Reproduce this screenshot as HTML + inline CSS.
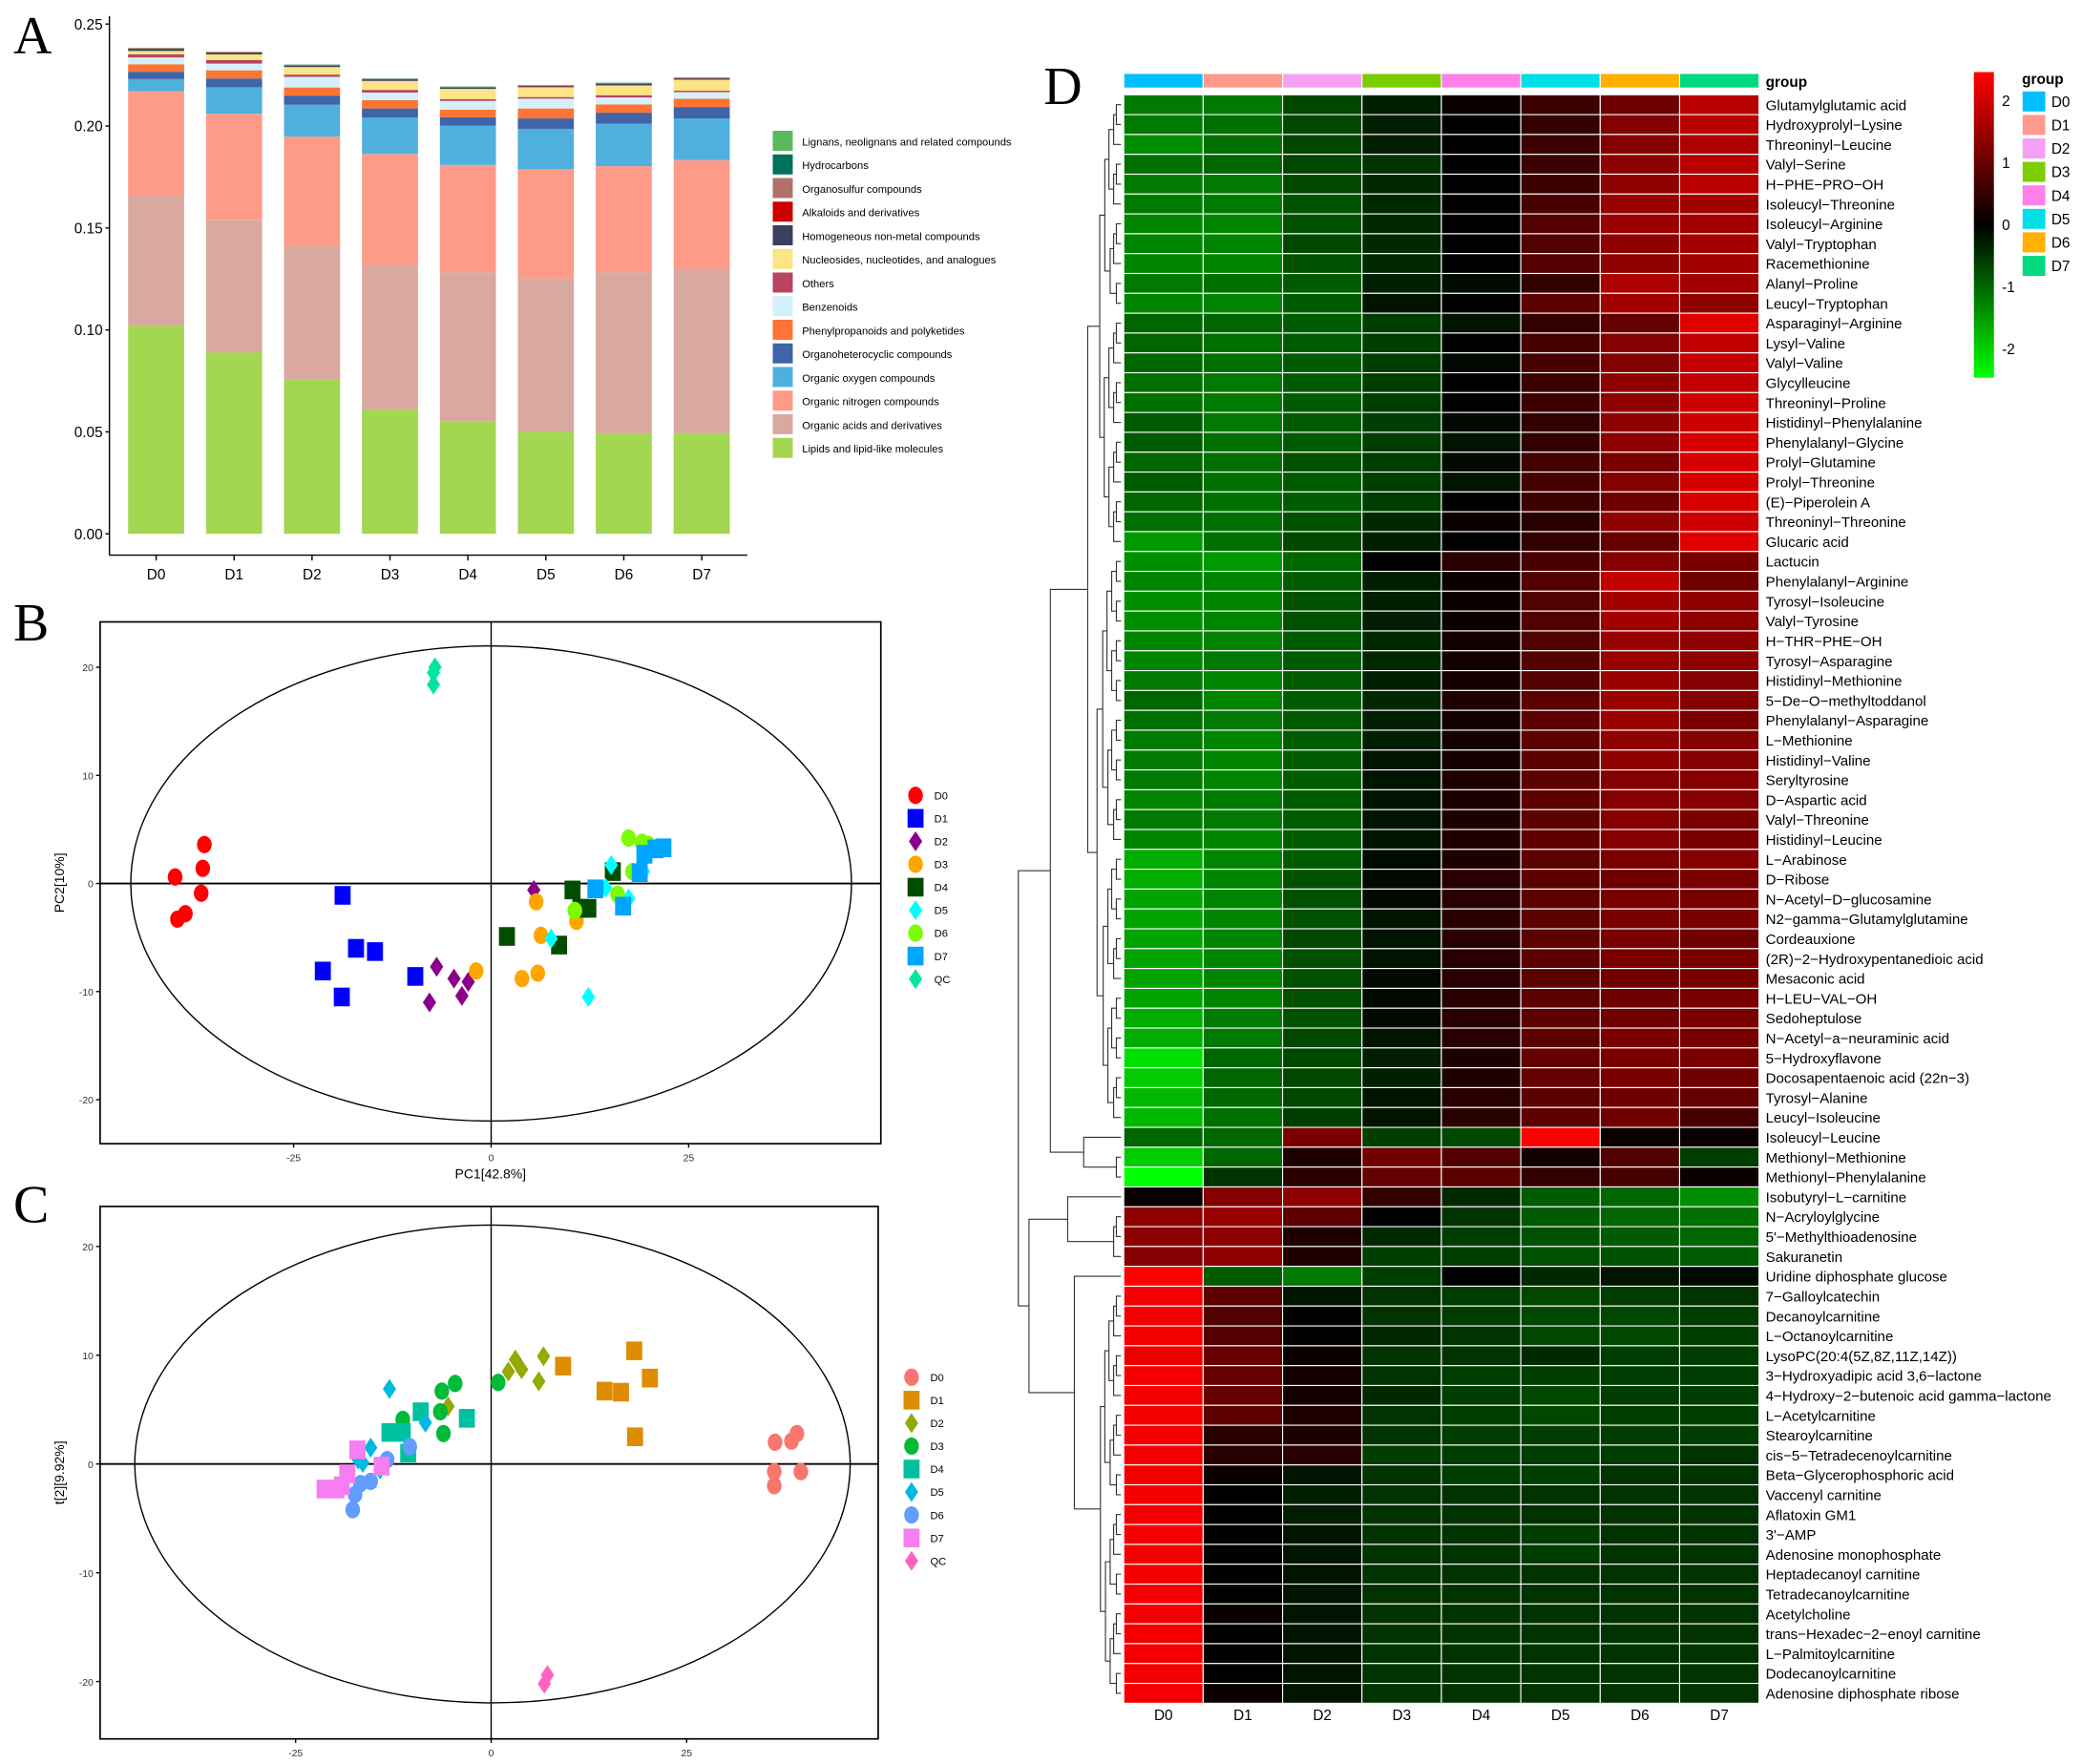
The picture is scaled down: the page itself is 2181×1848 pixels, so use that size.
<!DOCTYPE html>
<html><head><meta charset="utf-8">
<style>
html,body{margin:0;padding:0;background:#fff;}
svg{display:block;font-family:"Liberation Sans",sans-serif;}
</style></head>
<body>
<svg id="fig" width="2181" height="1848" viewBox="0 0 1560 1321.8" xmlns="http://www.w3.org/2000/svg">
<rect width="1560" height="1322" fill="#fff"/>
<text x="10" y="40" font-family="Liberation Serif,serif" font-size="40">A</text>
<text x="10" y="480" font-family="Liberation Serif,serif" font-size="40">B</text>
<text x="10" y="916" font-family="Liberation Serif,serif" font-size="40">C</text>
<text x="782" y="78" font-family="Liberation Serif,serif" font-size="40">D</text>
<g id="gA"></g>
<g id="gB"></g>
<g id="gC"></g>
<g id="gD"></g>
</svg>
<script>
// ===== Panel A data =====
const aGroups = ["D0","D1","D2","D3","D4","D5","D6","D7"];
const aClasses = ["Lipids and lipid-like molecules","Organic acids and derivatives","Organic nitrogen compounds","Organic oxygen compounds","Organoheterocyclic compounds","Phenylpropanoids and polyketides","Benzenoids","Others","Nucleosides, nucleotides, and analogues","Homogeneous non-metal compounds","Alkaloids and derivatives","Organosulfur compounds","Hydrocarbons","Lignans, neolignans and related compounds"];
const aColors = ["#a3d651","#d9a89e","#fe9a88","#4fb0dd","#3f64a8","#fe7433","#d4f1fb","#b94460","#fde484","#3a405e","#cc0000","#b0716b","#00705f","#5cb85c"];
const aLipids   = [0.102,0.089,0.0756,0.0611,0.055,0.0501,0.0494,0.0494];
const aAcids    = [0.064,0.065,0.0656,0.0708,0.0732,0.0751,0.0788,0.0806];
const aNitrogen = [0.051,0.052,0.0536,0.0544,0.0527,0.0537,0.0521,0.0533];
const aOxygen   = [0.006,0.013,0.0156,0.0178,0.0193,0.0197,0.0208,0.0204];
const aHetero   = [0.0036,0.0043,0.0045,0.0045,0.0041,0.0051,0.0054,0.0056];
const aPhenyl   = [0.0037,0.004,0.004,0.0041,0.0037,0.0049,0.0041,0.0041];
const aBenzen   = [0.0033,0.0033,0.0052,0.0037,0.0043,0.0048,0.0034,0.0032];
const aOthers   = [0.0015,0.0017,0.0011,0.0013,0.0009,0.0008,0.0011,0.0007];
const aNucleo   = [0.0017,0.0028,0.0037,0.0044,0.005,0.0048,0.0048,0.0054];
const aHomog    = [0.0008,0.0007,0.0007,0.0006,0.0006,0.0005,0.0008,0.0006];
const aAlkal    = [0.0003,0.0002,0.0002,0.0002,0.0002,0.0002,0.0002,0.0002];
const aSulfur   = [0.0002,0.0002,0.0002,0.0002,0.0002,0.0002,0.0002,0.0002];
const aHydro    = [0.0001,0.0001,0.0001,0.0001,0.0001,0.0001,0.0001,0.0001];
const aLignan   = [0.0001,0.0001,0.0001,0.0001,0.0001,0.0001,0.0001,0.0001];
const aTicks = [0,0.05,0.10,0.15,0.20,0.25];
const aTickLabels = ["0.00","0.05","0.10","0.15","0.20","0.25"];

// ===== Panel B data (PCA) =====
const bGroups = ["D0","D1","D2","D3","D4","D5","D6","D7","QC"];
const bX = [
 [-36.3,-36.5,-40,-36.7,-38.7,-39.7],
 [-18.8,-21.3,-17.1,-14.7,-18.9,-9.6],
 [5.4,-6.9,-4.7,-2.9,-3.7,-7.8],
 [5.7,-1.9,3.9,5.9,6.3,10.8],
 [10.3,15.4,2,8.6,12.3,11.3],
 [15.2,19.3,7.6,12.3,14.5,17.4],
 [17.4,19.1,19.9,17.9,16,10.6],
 [20.8,21.8,19.4,18.8,13.2,16.7],
 [-7.1,-7.3,-7.3]];
const bY = [
 [3.6,1.4,0.6,-0.9,-2.8,-3.3],
 [-1.1,-8.1,-6.0,-6.3,-10.5,-8.6],
 [-0.6,-7.7,-8.8,-9.1,-10.4,-11],
 [-1.7,-8.1,-8.8,-8.3,-4.8,-3.5],
 [-0.6,1.1,-4.9,-5.7,-2.3,-2.3],
 [1.7,1.1,-5.1,-10.5,-0.4,-1.4],
 [4.2,3.8,3.6,1.1,-1,-2.5],
 [3.2,3.3,2.7,1,-0.5,-2.1],
 [20,19.5,18.4]];
const bTicksX = [-25,0,25];
const bTicksY = [-20,-10,0,10,20];

// ===== Panel C data (OPLS-DA) =====
const cX = [
 [39.1,38.4,36.3,36.2,39.6,36.2],
 [18.3,9.2,20.3,14.5,16.6,18.4],
 [3.1,6.7,2.2,3.9,6.1,-5.5],
 [-4.6,-6.3,0.9,-6.5,-11.3,-6.1],
 [-9,-3.1,-13,-11.3,-10.6],
 [-13,-8.4,-15.4,-16.4,-14.2,-17],
 [-10.4,-13.3,-15.4,-17.4,-17.7,-16.7],
 [-17.1,-14,-18.4,-21.3,-19.8,-19.1],
 [7.2,6.8]];
const cY = [
 [2.8,2.1,2,-0.7,-0.7,-2],
 [10.4,9,7.9,6.7,6.6,2.5],
 [9.6,9.9,8.5,8.7,7.6,5.3],
 [7.4,6.7,7.5,4.8,4.1,2.8],
 [4.8,4.2,2.9,2.9,1],
 [6.9,3.8,1.5,0.1,-0.5,0.4],
 [1.6,0.4,-1.6,-2.8,-4.2,-1.8],
 [1.3,-0.2,-0.9,-2.3,-2.3,-2],
 [-19.4,-20.2]];

// ===== Panel D data (heatmap) =====
const hCols = ["D0","D1","D2","D3","D4","D5","D6","D7"];
const hRows = ["Glutamylglutamic acid","Hydroxyprolyl\u2212Lysine","Threoninyl\u2212Leucine","Valyl\u2212Serine","H\u2212PHE\u2212PRO\u2212OH","Isoleucyl\u2212Threonine","Isoleucyl\u2212Arginine","Valyl\u2212Tryptophan","Racemethionine","Alanyl\u2212Proline","Leucyl\u2212Tryptophan","Asparaginyl\u2212Arginine","Lysyl\u2212Valine","Valyl\u2212Valine","Glycylleucine","Threoninyl\u2212Proline","Histidinyl\u2212Phenylalanine","Phenylalanyl\u2212Glycine","Prolyl\u2212Glutamine","Prolyl\u2212Threonine","(E)\u2212Piperolein A","Threoninyl\u2212Threonine","Glucaric acid","Lactucin","Phenylalanyl\u2212Arginine","Tyrosyl\u2212Isoleucine","Valyl\u2212Tyrosine","H\u2212THR\u2212PHE\u2212OH","Tyrosyl\u2212Asparagine","Histidinyl\u2212Methionine","5\u2212De\u2212O\u2212methyltoddanol","Phenylalanyl\u2212Asparagine","L\u2212Methionine","Histidinyl\u2212Valine","Seryltyrosine","D\u2212Aspartic acid","Valyl\u2212Threonine","Histidinyl\u2212Leucine","L\u2212Arabinose","D\u2212Ribose","N\u2212Acetyl\u2212D\u2212glucosamine","N2\u2212gamma\u2212Glutamylglutamine","Cordeauxione","(2R)\u22122\u2212Hydroxypentanedioic acid","Mesaconic acid","H\u2212LEU\u2212VAL\u2212OH","Sedoheptulose","N\u2212Acetyl\u2212a\u2212neuraminic acid","5\u2212Hydroxyflavone","Docosapentaenoic acid (22n\u22123)","Tyrosyl\u2212Alanine","Leucyl\u2212Isoleucine","Isoleucyl\u2212Leucine","Methionyl\u2212Methionine","Methionyl\u2212Phenylalanine","Isobutyryl\u2212L\u2212carnitine","N\u2212Acryloylglycine","5'\u2212Methylthioadenosine","Sakuranetin","Uridine diphosphate glucose","7\u2212Galloylcatechin","Decanoylcarnitine","L\u2212Octanoylcarnitine","LysoPC(20:4(5Z,8Z,11Z,14Z))","3\u2212Hydroxyadipic acid 3,6\u2212lactone","4\u2212Hydroxy\u22122\u2212butenoic acid gamma\u2212lactone","L\u2212Acetylcarnitine","Stearoylcarnitine","cis\u22125\u2212Tetradecenoylcarnitine","Beta\u2212Glycerophosphoric acid","Vaccenyl carnitine","Aflatoxin GM1","3'\u2212AMP","Adenosine monophosphate","Heptadecanoyl carnitine","Tetradecanoylcarnitine","Acetylcholine","trans\u2212Hexadec\u22122\u2212enoyl carnitine","L\u2212Palmitoylcarnitine","Dodecanoylcarnitine","Adenosine diphosphate ribose"];
const hVals = [
[-1.2,-1.2,-0.7,-0.3,0.1,0.6,1.1,1.8],[-1.2,-1.1,-0.7,-0.3,0,0.5,1.3,1.8],[-1.4,-1.1,-0.7,-0.3,0,0.6,1.3,1.7],[-1.1,-1.0,-0.7,-0.5,0,0.6,1.4,1.8],[-1.2,-1.2,-0.7,-0.4,0,0.6,1.4,1.8],
[-1.2,-1.2,-0.8,-0.4,0,0.7,1.5,1.6],[-1.3,-1.3,-0.8,-0.4,0,0.8,1.5,1.6],[-1.3,-1.3,-0.7,-0.4,0,0.8,1.4,1.6],[-1.3,-1.3,-0.8,-0.4,0,0.8,1.4,1.6],[-1.2,-1.1,-0.9,-0.3,-0.1,0.5,1.7,1.6],
[-1.3,-1.3,-0.9,-0.2,0,0.9,1.6,1.4],[-1.0,-1.0,-0.9,-0.6,-0.2,0.5,1.0,2.2],[-1.0,-1.1,-0.9,-0.6,0,0.7,1.3,1.9],[-1.0,-1.1,-0.9,-0.6,-0.1,0.7,1.3,1.9],[-1.1,-1.2,-0.9,-0.6,0,0.6,1.4,1.9],
[-1.1,-1.2,-0.9,-0.6,0,0.6,1.4,2.0],[-0.9,-1.2,-0.9,-0.6,-0.1,0.5,1.4,2.0],[-0.9,-1.1,-0.9,-0.6,-0.2,0.5,1.4,2.1],[-1.0,-1.1,-0.8,-0.6,-0.1,0.7,1.2,2.1],[-0.9,-1.1,-0.9,-0.6,-0.2,0.7,1.3,2.1],
[-1.0,-1.1,-0.9,-0.6,0,0.6,1.1,2.1],[-1.1,-1.1,-0.8,-0.4,0.1,0.4,1.4,2.0],[-1.5,-1.1,-0.7,-0.3,0,0.5,1.0,2.2],[-1.4,-1.5,-1.0,0,0.4,0.7,1.3,1.2],[-1.3,-1.3,-0.9,-0.3,0.1,0.8,1.9,1.1],
[-1.4,-1.3,-0.8,-0.3,0.1,0.8,1.6,1.4],[-1.4,-1.3,-0.8,-0.3,0.1,0.8,1.6,1.4],[-1.3,-1.3,-0.9,-0.4,0.2,0.8,1.5,1.4],[-1.3,-1.2,-0.9,-0.4,0.2,0.8,1.5,1.4],[-1.2,-1.3,-0.9,-0.3,0.2,0.8,1.5,1.3],
[-1.0,-1.3,-0.9,-0.4,0.3,0.9,1.5,1.3],[-1.1,-1.2,-0.9,-0.3,0.2,0.9,1.5,1.2],[-1.2,-1.3,-0.9,-0.3,0.2,0.9,1.4,1.3],[-1.2,-1.3,-0.9,-0.2,0.2,0.9,1.4,1.3],[-1.2,-1.3,-0.9,-0.2,0.3,0.9,1.3,1.3],
[-1.3,-1.2,-0.9,-0.2,0.3,0.9,1.3,1.3],[-1.2,-1.2,-0.9,-0.2,0.3,0.9,1.3,1.2],[-1.3,-1.3,-0.9,-0.2,0.3,0.9,1.3,1.2],[-1.7,-1.3,-0.9,-0.1,0.3,0.9,1.2,1.3],[-1.7,-1.3,-0.8,-0.1,0.4,0.9,1.1,1.2],
[-1.6,-1.3,-0.8,-0.1,0.4,0.9,1.2,1.2],[-1.6,-1.3,-0.8,-0.2,0.4,0.9,1.2,1.2],[-1.6,-1.3,-0.7,-0.2,0.4,0.9,1.2,1.1],[-1.6,-1.3,-0.8,-0.2,0.4,0.9,1.2,1.2],[-1.6,-1.3,-0.8,-0.1,0.4,0.9,1.1,1.2],
[-1.6,-1.3,-0.8,-0.1,0.4,0.9,1.1,1.2],[-1.7,-1.2,-0.8,-0.1,0.4,0.9,1.1,1.2],[-1.7,-1.2,-0.7,-0.2,0.4,0.9,1.2,1.2],[-2.2,-1.0,-0.7,-0.3,0.3,1.0,1.2,1.2],[-2.0,-1.0,-0.7,-0.3,0.3,1.0,1.2,1.1],
[-1.8,-1.0,-0.7,-0.2,0.4,0.9,1.1,1.0],[-1.8,-1.1,-0.6,-0.2,0.4,0.9,1.1,0.7],[-1.0,-1.0,1.2,-0.6,-0.7,2.5,0.1,0.1],[-2.0,-1.0,0.3,1.1,0.8,0.2,0.8,-0.6],[-2.5,-0.5,0.4,1.0,0.9,0.5,0.7,0.1],
[0.1,1.3,1.4,0.5,-0.4,-0.9,-1.0,-1.4],[1.4,1.5,0.9,0,-0.5,-0.9,-1.0,-1.1],[1.4,1.4,0.3,-0.4,-0.6,-0.8,-0.9,-1.0],[1.3,1.4,0.3,-0.6,-0.6,-0.8,-0.8,-0.9],[2.5,-0.9,-1.2,-0.6,0,-0.4,-0.2,-0.1],
[2.4,0.9,-0.2,-0.5,-0.6,-0.7,-0.6,-0.5],[2.4,0.8,0,-0.5,-0.6,-0.7,-0.7,-0.6],[2.4,0.8,0,-0.4,-0.5,-0.7,-0.7,-0.6],[2.3,1.0,0.1,-0.5,-0.5,-0.4,-0.6,-0.6],[2.4,1.0,0.2,-0.5,-0.6,-0.6,-0.6,-0.6],
[2.4,1.0,0.2,-0.4,-0.6,-0.7,-0.6,-0.6],[2.4,0.9,0.3,-0.5,-0.6,-0.7,-0.6,-0.6],[2.4,0.4,0.3,-0.5,-0.6,-0.6,-0.6,-0.6],[2.4,0.4,0.4,-0.6,-0.6,-0.6,-0.6,-0.5],[2.4,0.1,-0.2,-0.5,-0.6,-0.6,-0.5,-0.5],
[2.4,0,-0.3,-0.5,-0.5,-0.5,-0.5,-0.5],[2.4,0,-0.3,-0.5,-0.5,-0.5,-0.5,-0.5],[2.4,0,-0.2,-0.5,-0.5,-0.6,-0.5,-0.5],[2.4,0,-0.2,-0.5,-0.5,-0.6,-0.5,-0.5],[2.4,0,-0.2,-0.5,-0.5,-0.5,-0.5,-0.5],
[2.4,0,-0.2,-0.5,-0.5,-0.5,-0.5,-0.5],[2.4,0.1,-0.2,-0.5,-0.5,-0.5,-0.5,-0.5],[2.4,0,-0.2,-0.5,-0.5,-0.5,-0.5,-0.5],[2.4,0,-0.2,-0.5,-0.5,-0.5,-0.5,-0.5],[2.4,0,-0.2,-0.5,-0.5,-0.5,-0.5,-0.5],
[2.4,0.1,-0.2,-0.5,-0.5,-0.5,-0.5,-0.5]];
const hLegendTicks = [2,1,0,-1,-2];

const NS = "http://www.w3.org/2000/svg";
function mk(parent, tag, attrs, txt){
  const e = document.createElementNS(NS, tag);
  for (const k in attrs) e.setAttribute(k, attrs[k]);
  if (txt !== undefined) e.textContent = txt;
  parent.appendChild(e);
  return e;
}

// ===== Panel A =====
(function(){
  const g = document.getElementById("gA");
  const y0 = 400, pxPer = 1528; // px per unit
  const yS = v => y0 - v * pxPer;
  const xS = i => 117 + i * 58.4;
  const bw = 42;
  const series = [aLipids,aAcids,aNitrogen,aOxygen,aHetero,aPhenyl,aBenzen,aOthers,aNucleo,aHomog,aAlkal,aSulfur,aHydro,aLignan];
  let l = mk(g,"line",{x1:82,y1:12,x2:82,y2:416,stroke:"#000","stroke-width":1});
   
  l = mk(g,"line",{x1:82,y1:416,x2:560,y2:416,stroke:"#000","stroke-width":1});
   
  aTicks.forEach((t,i)=>{
    mk(g,"line",{x1:79,y1:yS(t),x2:82,y2:yS(t),stroke:"#000"});
    const tx = mk(g,"text",{x:77,y:yS(t)+4,"text-anchor":"end","font-size":11},aTickLabels[i]);
     
  });
  aGroups.forEach((gr,i)=>{
    let cum = 0;
    series.forEach((s,k)=>{
      const r = mk(g,"rect",{x:xS(i)-bw/2,y:yS(cum+s[i]),width:bw,height:s[i]*pxPer,fill:aColors[k]});
       
      cum += s[i];
    });
    mk(g,"line",{x1:xS(i),y1:416,x2:xS(i),y2:420,stroke:"#000"});
    const tx = mk(g,"text",{x:xS(i),y:434,"text-anchor":"middle","font-size":11},gr);
     
  });
  // legend (top = Lignans)
  for (let k=aClasses.length-1, j=0; k>=0; k--, j++){
    const yy = 98 + j*17.7;
    const r = mk(g,"rect",{x:579,y:yy,width:15,height:15,fill:aColors[k]});
     
    const t = mk(g,"text",{x:601,y:yy+11,"font-size":8},aClasses[k]);
     
  }
})();

// ===== scatter helper =====
function shape(g, type, cx, cy, col){
  let e;
  if (type==="c") e = mk(g,"ellipse",{cx:cx,cy:cy,rx:5.5,ry:6.5,fill:col});
  else if (type==="s") e = mk(g,"rect",{x:cx-6,y:cy-7,width:12,height:14,fill:col});
  else e = mk(g,"polygon",{points:`${cx},${cy-7.5} ${cx+5},${cy} ${cx},${cy+7.5} ${cx-5},${cy}`,fill:col});
  return e;
}
function scatter(gid, X, Y, cols, box, x0, kx, y0, ky, ell, ticksX, ticksY, xlab, ylab, legY, legX){
  const g = document.getElementById(gid);
  const shapes = ["c","s","d","c","s","d","c","s","d"];
  const xS = v => x0 + v*kx, yS = v => y0 - v*ky;
  let r = mk(g,"rect",{x:box[0],y:box[1],width:box[2]-box[0],height:box[3]-box[1],fill:"none",stroke:"#000","stroke-width":1.2});
   
  let e = mk(g,"ellipse",{cx:ell[0],cy:ell[1],rx:ell[2],ry:ell[3],fill:"none",stroke:"#000","stroke-width":1});
   
  mk(g,"line",{x1:xS(0),y1:box[1],x2:xS(0),y2:box[3],stroke:"#000","stroke-width":1});
  mk(g,"line",{x1:box[0],y1:yS(0),x2:box[2],y2:yS(0),stroke:"#000","stroke-width":1.3});
  ticksX.forEach(t=>{
    mk(g,"line",{x1:xS(t),y1:box[3],x2:xS(t),y2:box[3]+3,stroke:"#000"});
    const tx = mk(g,"text",{x:xS(t),y:box[3]+13,"text-anchor":"middle","font-size":7.5,fill:"#333"},String(t));
     
  });
  ticksY.forEach(t=>{
    mk(g,"line",{x1:box[0]-3,y1:yS(t),x2:box[0],y2:yS(t),stroke:"#000"});
    const tx = mk(g,"text",{x:box[0]-5,y:yS(t)+3,"text-anchor":"end","font-size":7.5,fill:"#333"},String(t));
     
  });
  let t = mk(g,"text",{x:(box[0]+box[2])/2,y:box[3]+26,"text-anchor":"middle","font-size":10},xlab);
   
  const yc = (box[1]+box[3])/2;
  t = mk(g,"text",{x:48,y:yc,"text-anchor":"middle","font-size":10,transform:`rotate(-90 48 ${yc})`},ylab);
   
  X.forEach((xs,gi)=>{
    xs.forEach((v,j)=>{
      const p = shape(g, shapes[gi], xS(v), yS(Y[gi][j]), cols[gi]);
      
      
    });
  });
  bGroups.forEach((gr,i)=>{
    const yy = legY + i*17.2;
    const p = shape(g, shapes[i], legX, yy, cols[i]);
     
    const tx = mk(g,"text",{x:legX+14,y:yy+3,"font-size":8},gr);
     
  });
}
scatter("gB", bX, bY, ["#ff0000","#0000ff","#8b008b","#ffa500","#004d00","#00ffff","#7cfc00","#00a5ff","#00e6a0"],
  [75,466,660,857], 368, 5.92, 662, 8.1, [368,662,270,178], bTicksX, bTicksY, "PC1[42.8%]", "PC2[10%]", 596, 686);
scatter("gC", cX, cY, ["#f8766d","#de8c00","#93aa00","#00ba38","#00c19f","#00b9e3","#619cff","#f77ef0","#ff61c3"],
  [75,904,658,1303], 368, 5.86, 1097, 8.15, [369,1097,268,179], bTicksX, bTicksY, "t[1][43%]", "t[2][9.92%]", 1032, 683);

// ===== Panel D heatmap =====
(function(){
  const g = document.getElementById("gD");
  const x0 = 842, cw = 59.5, y0 = 71, rh = 14.88;
  const gcol = ["#00bfff","#ff9a8c","#f5a0f5","#7ccd00","#ff80e8","#00dfe6","#ffb000","#00d97e"];
  function col(v){
    const t = Math.min(1, Math.abs(v)/2.5);
    const c = Math.round(255*t);
    return v>=0 ? `rgb(${c},0,0)` : `rgb(0,${c},0)`;
  }
  hCols.forEach((c,j)=>{
    const r = mk(g,"rect",{x:x0+j*cw,y:55,width:cw,height:11,fill:gcol[j],stroke:"#fff","stroke-width":0.8});
     
    const t = mk(g,"text",{x:x0+j*cw+cw/2,y:1289,"text-anchor":"middle","font-size":11},c);
     
  });
  let t = mk(g,"text",{x:1323,y:65,"font-size":11,"font-weight":"bold"},"group");
   
  hRows.forEach((name,i)=>{
    hVals[i].forEach((v,j)=>{
      const r = mk(g,"rect",{x:x0+j*cw,y:y0+i*rh,width:cw,height:rh,fill:col(v),stroke:"#fff","stroke-width":0.8});
       
    });
    const tx = mk(g,"text",{x:1323,y:y0+i*rh+rh/2+4,"font-size":10.8},name);
     
  });
  // dendrogram
  const leafX = 840;
  const splits = {"0-80":[54,763],"0-54":[51,787],"0-51":[22,815],"55-80":[58,771],"59-80":[59,805],"23-51":[37,822],"0-22":[10,824],"52-54":[52,812],"55-58":[55,800]};
  function node(lo,hi,depth){
    const yc = (a)=> y0 + a*rh + rh/2;
    if (lo===hi) return {x:leafX, y:yc(lo)};
    let sp = splits[lo+"-"+hi], mid, x;
    if (sp){ mid = sp[0]; x = sp[1]; }
    else { mid = Math.floor((lo+hi)/2); x = leafX - Math.min(18, 2.2*Math.log2(hi-lo+1)*1.6); }
    const a = node(lo,mid,depth+1), b = node(mid+1,hi,depth+1);
    const p = mk(g,"path",{d:`M${a.x},${a.y}H${x}V${b.y}H${b.x}`,fill:"none",stroke:"#333","stroke-width":0.8});
     
    return {x:x, y:(a.y+b.y)/2};
  }
  node(0,80,0);
  // color legend
  const defs = mk(g,"defs",{});
  const lg = mk(defs,"linearGradient",{id:"hg",x1:0,y1:0,x2:0,y2:1});
  mk(lg,"stop",{offset:"0%","stop-color":"#ff0000"});
  mk(lg,"stop",{offset:"50%","stop-color":"#000000"});
  mk(lg,"stop",{offset:"100%","stop-color":"#00ff00"});
  const cb = mk(g,"rect",{x:1479,y:54,width:15,height:229,fill:"url(#hg)"});
   
  hLegendTicks.forEach(v=>{
    const yy = 168.5 - v*46.5;
    const tx = mk(g,"text",{x:1500,y:yy+4,"font-size":11},String(v));
     
  });
  t = mk(g,"text",{x:1515,y:63,"font-size":11,"font-weight":"bold"},"group");
   
  hCols.forEach((c,j)=>{
    const yy = 68 + j*17.6;
    const r = mk(g,"rect",{x:1515,y:yy,width:18,height:16,fill:gcol[j],stroke:"#fff"});
     
    const tx = mk(g,"text",{x:1537,y:yy+12,"font-size":11},c);
     
  });
})();
</script>
</body></html>
